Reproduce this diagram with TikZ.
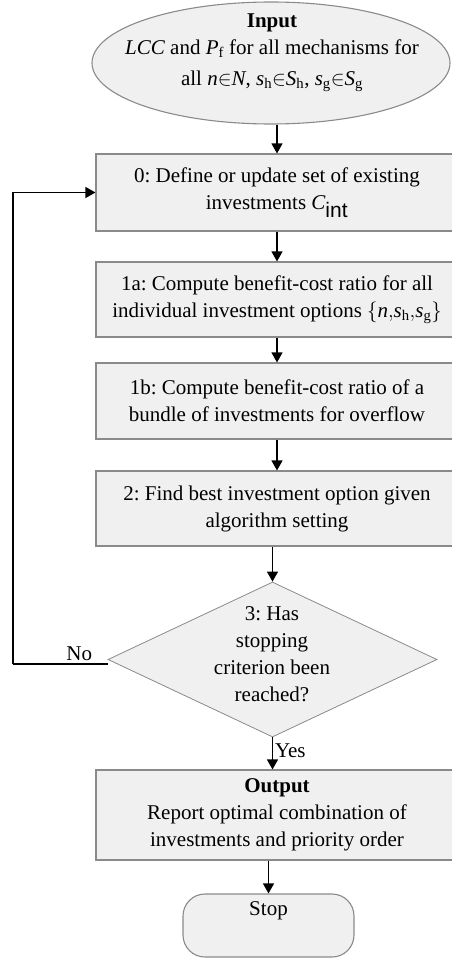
\documentclass[tikz,border=0pt]{standalone}
\usepackage{fontspec}
\setmainfont{Liberation Serif}
\setsansfont{Liberation Sans}
\usetikzlibrary{shapes.geometric,arrows.meta}
\definecolor{boxfill}{HTML}{F0F0F0}
\definecolor{boxline}{HTML}{8A8A8A}
\frenchspacing
\tikzset{
  every node/.style={font=\fontsize{21}{27}\selectfont},
  procbox/.style={draw=boxline, fill=boxfill, line width=1.1pt, rectangle, inner sep=0pt,
    minimum width=362pt, align=center},
  flowarrow/.style={line width=1.2pt, -{Triangle[length=10pt,width=11pt]}},
  loopline/.style={line width=1.1pt},
}
\begin{document}
\begin{tikzpicture}[x=1pt,y=1pt]
\useasboundingbox (0,0) rectangle (451,-958);
% input ellipse
\node[ellipse, draw=boxline, fill=boxfill, line width=1.1pt, minimum width=358pt, minimum height=122pt, inner sep=0pt] (in) at (271,-63) {};
\node[align=center] (intext) at (272,-53) {\textbf{Input}\\ $\mathit{LCC}$ and $\mathit{P}_{\mathrm{f}}$ for all mechanisms for\\[4pt] all $\mathit{n}{\in}\mathit{N}$, $\mathit{s}_{\mathrm{h}}{\in}\mathit{S}_{\mathrm{h}}$, $\mathit{s}_{\mathrm{g}}{\in}\mathit{S}_{\mathrm{g}}$};
% process boxes
\node[procbox, minimum height=77pt] (b0) at (277,-192.5) {0: Define or update set of existing\\ investments $\mathit{C}_{\textsf{int}}$};
\node[procbox, minimum height=75pt] (b1a) at (277,-299.5) {1a: Compute benefit-cost ratio for all\\ individual investment options $\{\mathit{n}{,}\mathit{s}_{\mathrm{h}}{,}\mathit{s}_{\mathrm{g}}\}$};
\node[procbox, minimum height=76pt] (b1b) at (277,-401) {1b: Compute benefit-cost ratio of a\\ bundle of investments for overflow};
\node[procbox, minimum height=75pt] (b2) at (277,-508.5) {2: Find best investment option given\\ algorithm setting};
% decision
\node[diamond, draw=boxline, fill=boxfill, line width=0.8pt, minimum width=329pt, minimum height=155pt, inner sep=0pt] (d) at (272.5,-659.5) {};
\node[align=center] (dtext) at (272,-654) {3: Has\\ stopping\\ criterion been\\ reached?};
% output
\node[procbox, minimum height=90pt] (out) at (277,-815) {\textbf{Output}\\ Report optimal combination of\\ investments and priority order};
% stop
\node[draw=boxline, fill=boxfill, line width=1.1pt, rounded corners=22pt, minimum width=171pt, minimum height=63pt, inner sep=0pt] (stop) at (268.5,-925.5) {};
\node (stoptext) at (268.5,-911) {Stop};
% connectors
\draw[flowarrow] (in.south -| b0.north) -- (b0.north);
\draw[flowarrow] (b0.south) -- (b1a.north);
\draw[flowarrow] (b1a.south) -- (b1b.north);
\draw[flowarrow] (b1b.south) -- (b2.north);
\draw[flowarrow] (b2.south -| d.north) -- (d.north);
\draw[flowarrow] (d.south) -- (d.south |- out.north) node[pos=0.4, right, inner sep=2pt] (yes) {Yes};
\draw[flowarrow] (stop.north |- out.south) -- (stop.north);
\coordinate (lc) at (13,-664);
\draw[loopline] (d.west |- lc) -- (lc) node[pos=0.3, above, inner sep=3pt] (no) {No};
\draw[flowarrow] (lc) |- (b0.west);
\end{tikzpicture}
\end{document}
